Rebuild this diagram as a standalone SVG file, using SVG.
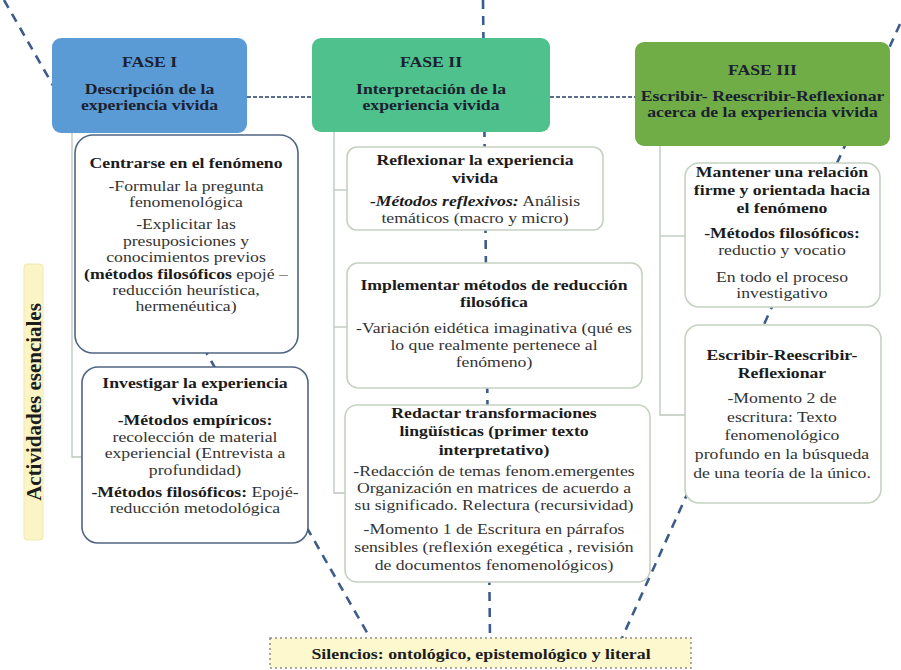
<svg xmlns="http://www.w3.org/2000/svg" width="901" height="670" viewBox="0 0 901 670">
<style>
text{font-family:"Liberation Serif","Times New Roman",serif;font-size:15px;fill:#333;text-anchor:middle}
.b{font-weight:bold;fill:#1c1c1c}
.bi{font-weight:bold;font-style:italic;fill:#1c1c1c}
.h{font-weight:bold;fill:#1b2130;font-size:15px}
.hdr1{fill:#5b9bd5}
.hdr2{fill:#4fc18c}
.hdr3{fill:#70ad47}
.c1{fill:#fff;stroke:#4f6584;stroke-width:1.6}
.c2{fill:#fff;stroke:#c5d2c2;stroke-width:1.6}
.big{fill:none;stroke:#3d5c8c;stroke-width:2.6;stroke-dasharray:9 7}
.dot{fill:none;stroke:#5b6d8a;stroke-width:2;stroke-dasharray:4 2}
.br{fill:none;stroke:#bcc6bc;stroke-width:1.3}
</style>
<g id="connectors">
<line class="big" x1="4" y1="0" x2="369" y2="636"/>
<line class="big" x1="900" y1="24" x2="622" y2="638"/>
<line class="big" x1="483" y1="0" x2="490" y2="638"/>
<line class="dot" x1="247" y1="97" x2="312" y2="97"/>
<line class="dot" x1="550" y1="97" x2="635" y2="97"/>
<polyline class="br" points="72,133 72,457 82,457"/>
<polyline class="br" points="334,132 334,493 345,493"/>
<line class="br" x1="334" y1="190" x2="347" y2="190"/>
<line class="br" x1="334" y1="327" x2="347" y2="327"/>
<polyline class="br" points="660,146 660,415 685,415"/>
<line class="br" x1="660" y1="236" x2="685" y2="236"/>
</g>
<g id="fase1">
<rect class="hdr1" x="52" y="38" width="195" height="95" rx="9"/>
<g transform="translate(149.5 0) scale(1.18 1)">
<text class="h" x="0" y="67">FASE I</text>
<text class="h" x="0" y="94">Descripción de la</text>
<text class="h" x="0" y="110">experiencia vivida</text>
</g>
</g>
<g id="fase2">
<rect class="hdr2" x="312" y="38" width="238" height="94" rx="9"/>
<g transform="translate(431 0) scale(1.18 1)">
<text class="h" x="0" y="67">FASE II</text>
<text class="h" x="0" y="94">Interpretación de la</text>
<text class="h" x="0" y="110">experiencia vivida</text>
</g>
</g>
<g id="fase3">
<rect class="hdr3" x="635" y="42" width="255" height="104" rx="9"/>
<g transform="translate(762.5 0) scale(1.18 1)">
<text class="h" x="0" y="75">FASE III</text>
<text class="h" x="0" y="101">Escribir- Reescribir-Reflexionar</text>
<text class="h" x="0" y="117">acerca de la experiencia vivida</text>
</g>
</g>
<g id="centrarse">
<rect class="c1" x="75" y="135" width="223" height="218" rx="18"/>
<g transform="translate(186 0) scale(1.18 1)">
<text class="b" x="0" y="168">Centrarse en el fenómeno</text>
<text x="0" y="191">-Formular la pregunta</text>
<text x="0" y="207">fenomenológica</text>
<text x="0" y="229">-Explicitar  las</text>
<text x="0" y="246">presuposiciones y</text>
<text x="0" y="262">conocimientos previos</text>
<text x="0" y="279"><tspan class="b">(métodos filosóficos</tspan> epojé –</text>
<text x="0" y="295">reducción heurística,</text>
<text x="0" y="311">hermenéutica)</text>
</g>
</g>
<g id="investigar">
<rect class="c1" x="82" y="367" width="226" height="176" rx="16"/>
<g transform="translate(195 0) scale(1.18 1)">
<text class="b" x="0" y="388">Investigar la experiencia</text>
<text class="b" x="0" y="405">vivida</text>
<text class="b" x="0" y="425">-Métodos empíricos:</text>
<text x="0" y="442">recolección de material</text>
<text x="0" y="458">experiencial  (Entrevista  a</text>
<text x="0" y="475">profundidad)</text>
<text x="0" y="497"><tspan class="b">-Métodos filosóficos:</tspan> Epojé-</text>
<text x="0" y="513">reducción metodológica</text>
</g>
</g>
<g id="reflexionar">
<rect class="c2" x="347" y="147" width="256" height="83" rx="10"/>
<g transform="translate(475 0) scale(1.18 1)">
<text class="b" x="0" y="165">Reflexionar la experiencia</text>
<text class="b" x="0" y="183">vivida</text>
<text x="0" y="206"><tspan class="bi">-Métodos reflexivos:</tspan> Análisis</text>
<text x="0" y="223">temáticos (macro y micro)</text>
</g>
</g>
<g id="implementar">
<rect class="c2" x="347" y="263" width="295" height="125" rx="11"/>
<g transform="translate(494 0) scale(1.18 1)">
<text class="b" x="0" y="290">Implementar métodos de reducción</text>
<text class="b" x="0" y="307">filosófica</text>
<text x="0" y="333">-Variación eidética imaginativa  (qué es</text>
<text x="0" y="350">lo que realmente  pertenece al</text>
<text x="0" y="367">fenómeno)</text>
</g>
</g>
<g id="redactar">
<rect class="c2" x="345" y="405" width="305" height="177" rx="12"/>
<g transform="translate(494 0) scale(1.18 1)">
<text class="b" x="0" y="418">Redactar transformaciones</text>
<text class="b" x="0" y="436">lingüísticas  (primer texto</text>
<text class="b" x="0" y="455">interpretativo)</text>
<text x="0" y="476">-Redacción de temas  fenom.emergentes</text>
<text x="0" y="493">Organización  en matrices de acuerdo a</text>
<text x="0" y="510">su significado.  Relectura (recursividad)</text>
<text x="0" y="534">-Momento 1 de Escritura en párrafos</text>
<text x="0" y="552">sensibles  (reflexión  exegética , revisión</text>
<text x="0" y="570">de documentos fenomenológicos)</text>
</g>
</g>
<g id="mantener">
<rect class="c2" x="685" y="163" width="195" height="144" rx="14"/>
<g transform="translate(782 0) scale(1.18 1)">
<text class="b" x="0" y="177">Mantener una relación</text>
<text class="b" x="0" y="195">firme y orientada hacia</text>
<text class="b" x="0" y="213">el fenómeno</text>
<text class="b" x="0" y="238">-Métodos filosóficos:</text>
<text x="0" y="255">reductio y vocatio</text>
<text x="0" y="282">En todo el proceso</text>
<text x="0" y="298">investigativo</text>
</g>
</g>
<g id="escribir">
<rect class="c2" x="685" y="325" width="196" height="178" rx="14"/>
<g transform="translate(782 0) scale(1.18 1)">
<text class="b" x="0" y="360">Escribir-Reescribir-</text>
<text class="b" x="0" y="378">Reflexionar</text>
<text x="0" y="403">-Momento 2 de</text>
<text x="0" y="422">escritura:  Texto</text>
<text x="0" y="440">fenomenológico</text>
<text x="0" y="459">profundo en la  búsqueda</text>
<text x="0" y="478">de una teoría de la único.</text>
</g>
</g>
<g id="actividades">
<rect x="24" y="264" width="19" height="276" rx="3" fill="#fbf5c6" stroke="#efe8b0" stroke-width="1"/>
<text class="b" transform="translate(41 402) rotate(-90)" x="0" y="0" style="font-size:21px">Actividades esenciales</text>
</g>
<g id="silencios">
<rect x="270" y="638" width="421" height="30" fill="#fdf8cd" stroke="#8c8c8c" stroke-width="1.5" stroke-dasharray="2 3"/>
<g transform="translate(481 0) scale(1.19 1)">
<text class="b" x="0" y="659">Silencios: ontológico, epistemológico y literal</text>
</g>
</g>
</svg>
